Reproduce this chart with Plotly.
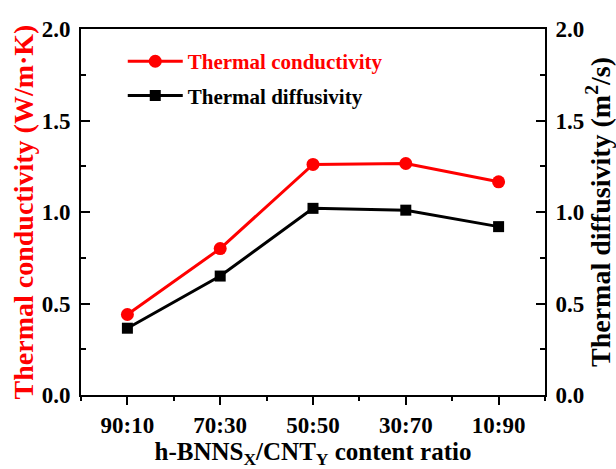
import plotly.graph_objects as go

categories = ["90:10", "70:30", "50:50", "30:70", "10:90"]
conductivity = [0.44, 0.80, 1.26, 1.265, 1.165]
diffusivity = [0.365, 0.65, 1.02, 1.01, 0.92]
yticks = [0.0, 0.5, 1.0, 1.5, 2.0]
yticklabels = ["0.0", "0.5", "1.0", "1.5", "2.0"]

FONT = "Liberation Serif"
xs = list(range(len(categories)))

fig = go.Figure()
fig.add_trace(go.Scatter(
    x=xs, y=conductivity, mode="lines+markers",
    name="<span style='color:#ff0000'>Thermal conductivity</span>",
    line=dict(color="#ff0000", width=3),
    marker=dict(symbol="circle", size=13, color="#ff0000"),
    legendgroup="a",
))
fig.add_trace(go.Scatter(
    x=xs, y=diffusivity, mode="lines+markers",
    name="Thermal diffusivity",
    line=dict(color="#000000", width=3),
    marker=dict(symbol="square", size=11, color="#000000"),
    legendgroup="b", yaxis="y2",
))

tickfont = dict(family=FONT, size=23, color="black", weight="bold")

fig.update_layout(
    width=616, height=469,
    margin=dict(l=81, r=71, t=29, b=72),
    plot_bgcolor="white", paper_bgcolor="white",
    showlegend=True,
    legend=dict(
        x=0.09, y=0.967, xanchor="left", yanchor="top",
        bgcolor="rgba(0,0,0,0)",
        font=dict(family=FONT, size=21, color="black", weight="bold"),
        tracegroupgap=4, itemwidth=55,
    ),
    xaxis=dict(
        range=[-0.5, 4.5], tickmode="array", tickvals=xs, ticktext=categories,
        showline=True, linecolor="black", linewidth=2, mirror=True,
        ticks="outside", ticklen=8, tickwidth=2, tickcolor="black",
        minor=dict(tickmode="linear", tick0=0.5, dtick=1, ticks="outside", ticklen=4, tickwidth=2, tickcolor="black"),
        showgrid=False, zeroline=False, tickfont=tickfont,
        title=dict(text="h-BNNS<sub>X</sub>/CNT<sub>Y</sub> content ratio",
                   font=dict(family=FONT, size=25, color="black", weight="bold"), standoff=2),
    ),
    yaxis=dict(
        range=[0, 2.0], tickmode="array", tickvals=yticks, ticktext=yticklabels,
        showline=True, linecolor="black", linewidth=2,
        ticks="inside", ticklen=9, tickwidth=2, tickcolor="black",
        minor=dict(tickmode="linear", tick0=0, dtick=0.25, ticks="inside", ticklen=5, tickwidth=2, tickcolor="black"),
        showgrid=False, zeroline=False, tickfont=tickfont, ticklabelstandoff=4,
        title=dict(text="Thermal conductivity (W/m·K)",
                   font=dict(family=FONT, size=28, color="#ff0000", weight="bold"), standoff=0),
    ),
    yaxis2=dict(
        range=[0, 2.0], tickmode="array", tickvals=yticks, ticktext=yticklabels,
        overlaying="y", side="right",
        showline=True, linecolor="black", linewidth=2,
        ticks="inside", ticklen=9, tickwidth=2, tickcolor="black",
        minor=dict(tickmode="linear", tick0=0, dtick=0.25, ticks="inside", ticklen=5, tickwidth=2, tickcolor="black"),
        showgrid=False, zeroline=False, tickfont=tickfont, ticklabelstandoff=4,
        title=dict(text="Thermal diffusivity (m<sup>2</sup>/s)",
                   font=dict(family=FONT, size=28, color="black", weight="bold"), standoff=0),
    ),
)

fig.write_html("out.html")
